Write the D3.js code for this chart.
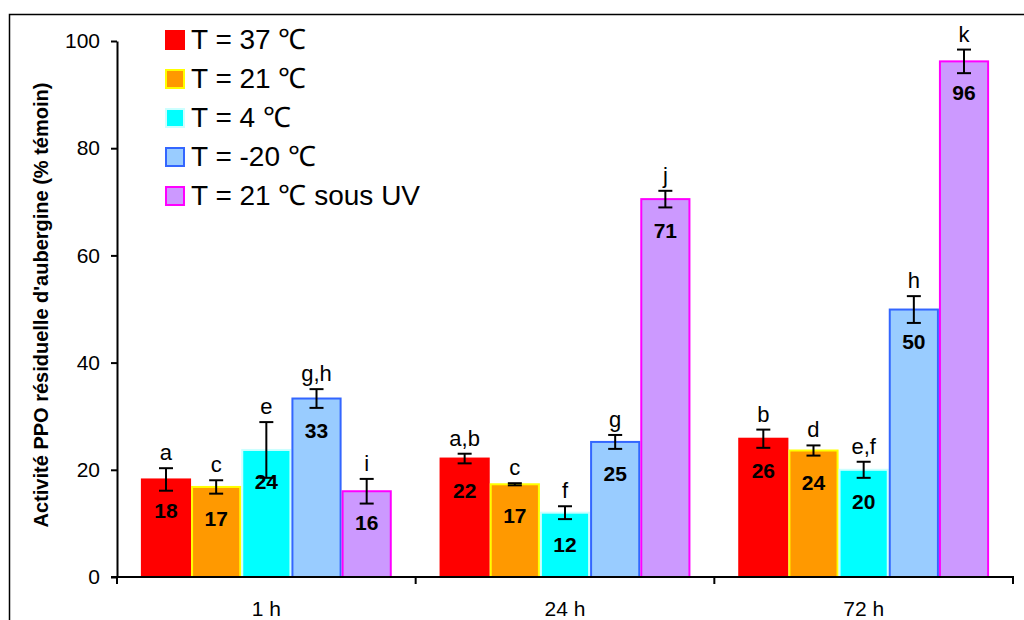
<!DOCTYPE html>
<html>
<head>
<meta charset="utf-8">
<script src="https://cdn.jsdelivr.net/npm/d3@7"></script>
<style>
  body { margin: 0; background: #fff; }
  text { font-family: "Liberation Sans", Arial, sans-serif; }
</style>
</head>
<body>
<script>
const width = 1024, height = 620;

// categories and series
const groups = ["1 h", "24 h", "72 h"];
const seriesNames = ["T = 37 \u2103", "T = 21 \u2103", "T = 4 \u2103", "T = -20 \u2103", "T = 21 \u2103 sous UV"];

// bar values (% témoin)
const valT37 = [18.2, 22.1, 25.8];
const valT21 = [16.8, 17.3, 23.6];
const valT4 = [23.7, 12.0, 20.0];
const valTm20 = [33.3, 25.2, 49.9];
const valUV = [16.0, 70.5, 96.2];

// error bar half widths
const errT37 = [2.1, 0.9, 1.7];
const errT21 = [1.25, 0.2, 0.95];
const errT4 = [5.2, 1.2, 1.5];
const errTm20 = [1.75, 1.3, 2.5];
const errUV = [2.3, 1.55, 2.2];

// significance letters
const letT37 = ["a", "a,b", "b"];
const letT21 = ["c", "c", "d"];
const letT4 = ["e", "f", "e,f"];
const letTm20 = ["g,h", "g", "h"];
const letUV = ["i", "j", "k"];

const yTicks = [0, 20, 40, 60, 80, 100];

const fills = ["#ff0000", "#ff9900", "#00ffff", "#99ccff", "#cc99ff"];
const strokes = ["#ff0000", "#ffff00", "#ccffff", "#3366ff", "#ff00ff"];

const allVals = [valT37, valT21, valT4, valTm20, valUV];
const allErrs = [errT37, errT21, errT4, errTm20, errUV];
const allLets = [letT37, letT21, letT4, letTm20, letUV];

const data = [];
groups.forEach((g, gi) => {
    seriesNames.forEach((s, si) => {
        data.push({group: g, series: s, si: si,
                   value: allVals[si][gi], err: allErrs[si][gi], letter: allLets[si][gi]});
    });
});

const svg = d3.select("body").append("svg")
    .attr("width", width)
    .attr("height", height);

// outer frame (runs off the picture on right and bottom)
svg.append("rect")
    .attr("x", 9.5).attr("y", 14.5)
    .attr("width", 1040).attr("height", 640)
    .attr("fill", "none").attr("stroke", "#000").attr("stroke-width", 1.5);

const plotLeft = 117, plotRight = 1013, plotTop = 41, plotBottom = 577;

const y = d3.scaleLinear().domain([0, 100]).range([plotBottom, plotTop]);
const x0 = d3.scaleBand().domain(groups).range([plotLeft, plotRight]).padding(0);
const bw = x0.bandwidth();
const x1 = d3.scaleBand().domain(seriesNames).range([bw * 0.08, bw * 0.92]).padding(0);

// bars
const bars = svg.append("g");
bars.selectAll("rect").data(data).join("rect")
    .attr("x", d => x0(d.group) + x1(d.series) + 1)
    .attr("y", d => y(d.value))
    .attr("width", x1.bandwidth() - 2)
    .attr("height", d => y(0) - y(d.value))
    .attr("fill", d => fills[d.si])
    .attr("stroke", d => strokes[d.si])
    .attr("stroke-width", 2);

// error bars
const eb = svg.append("g").attr("stroke", "#000").attr("stroke-width", 2);
data.forEach(d => {
    const cx = x0(d.group) + x1(d.series) + x1.bandwidth() / 2;
    const y1 = y(d.value + d.err), y2 = y(d.value - d.err);
    eb.append("line").attr("x1", cx).attr("x2", cx).attr("y1", y1).attr("y2", y2);
    eb.append("line").attr("x1", cx - 7).attr("x2", cx + 7).attr("y1", y1).attr("y2", y1);
    eb.append("line").attr("x1", cx - 7).attr("x2", cx + 7).attr("y1", y2).attr("y2", y2);
});

// value labels
svg.append("g").selectAll("text").data(data).join("text")
    .attr("x", d => x0(d.group) + x1(d.series) + x1.bandwidth() / 2)
    .attr("y", d => y(d.value) + 39)
    .attr("text-anchor", "middle")
    .attr("font-size", 21)
    .attr("font-weight", "bold")
    .text(d => Math.round(d.value));

// letters
svg.append("g").selectAll("text").data(data).join("text")
    .attr("x", d => x0(d.group) + x1(d.series) + x1.bandwidth() / 2)
    .attr("y", d => y(d.value + d.err) - 8)
    .attr("text-anchor", "middle")
    .attr("font-size", 22)
    .text(d => d.letter);

// y axis
const yAxis = svg.append("g")
    .attr("transform", `translate(${plotLeft},0)`)
    .call(d3.axisLeft(y).tickValues(yTicks).tickSize(6).tickPadding(11).tickSizeOuter(0));
yAxis.select(".domain").attr("stroke-width", 2);
yAxis.selectAll(".tick line").attr("stroke-width", 2);
yAxis.selectAll(".tick text").attr("font-size", 21)
    .style("font-family", "'Liberation Sans', Arial, sans-serif");

// x axis: ticks at category boundaries
const xg = svg.append("g");
xg.append("line").attr("x1", plotLeft - 6).attr("x2", plotRight + 1)
    .attr("y1", plotBottom).attr("y2", plotBottom)
    .attr("stroke", "#000").attr("stroke-width", 2);
const bounds = groups.map(g => x0(g)).concat([plotRight]);
xg.selectAll("line.tk").data(bounds).join("line").attr("class", "tk")
    .attr("x1", d => d).attr("x2", d => d)
    .attr("y1", plotBottom).attr("y2", plotBottom + 7)
    .attr("stroke", "#000").attr("stroke-width", 2);
xg.selectAll("text").data(groups).join("text")
    .attr("x", d => x0(d) + bw / 2)
    .attr("y", 616)
    .attr("text-anchor", "middle")
    .attr("font-size", 21)
    .text(d => d);

// y axis title
svg.append("text")
    .attr("transform", "translate(48,305) rotate(-90)")
    .attr("text-anchor", "middle")
    .attr("font-size", 20)
    .attr("font-weight", "bold")
    .text("Activit\u00e9 PPO r\u00e9siduelle d'aubergine (% t\u00e9moin)");

// legend
const legend = svg.append("g");
seriesNames.forEach((s, i) => {
    const ly = 31 + i * 39;
    legend.append("rect")
        .attr("x", 166).attr("y", ly).attr("width", 18).attr("height", 18)
        .attr("fill", fills[i]).attr("stroke", strokes[i]).attr("stroke-width", 2);
    legend.append("text")
        .attr("x", 191).attr("y", ly + 18)
        .attr("font-size", 28)
        .text(s);
});
</script>
</body>
</html>
